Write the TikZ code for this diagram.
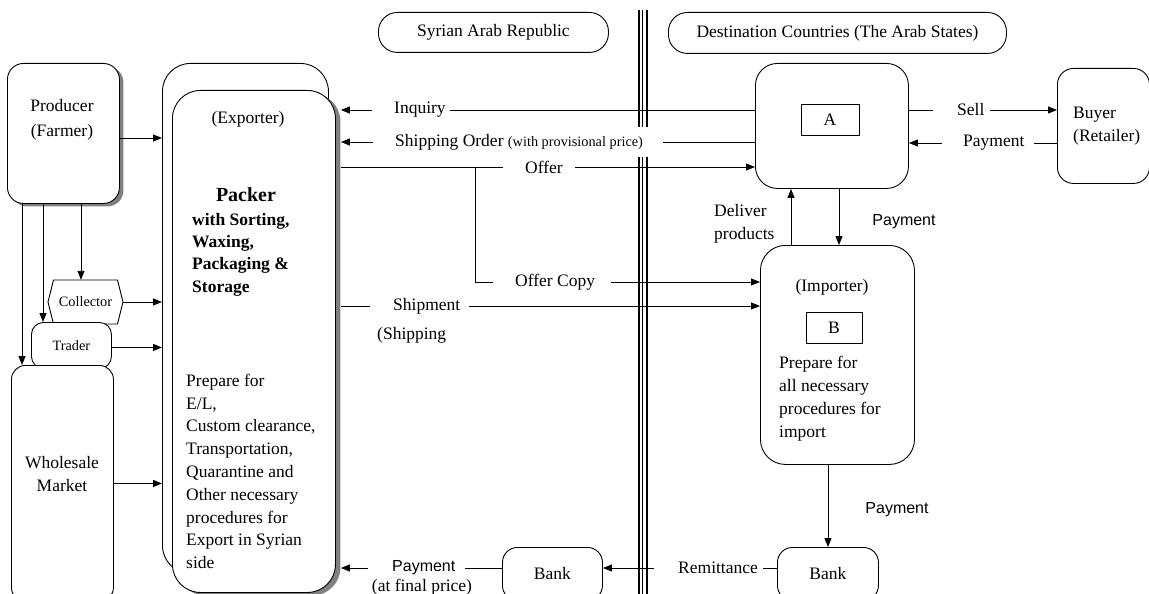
\documentclass[tikz,border=0pt]{standalone}
\usepackage{fontspec}
\setmainfont{Liberation Serif}
\setsansfont{Liberation Sans}
\usetikzlibrary{arrows.meta,calc,shadows}
\newcommand{\fmain}{\fontsize{17.5pt}{22.8pt}\selectfont}
\newcommand{\fsml}{\fontsize{14.3pt}{17pt}\selectfont}
\newcommand{\fsns}{\sffamily\fontsize{16pt}{19pt}\selectfont}
\newcommand{\fbig}{\bfseries\fontsize{20pt}{24pt}\selectfont}
\begin{document}
\begin{tikzpicture}[x=1pt,y=-1pt,
  every node/.style={font=\fmain, inner sep=0pt},
  box/.style={draw, fill=white, line width=0.9pt, anchor=north west},
  arr/.style={line width=0.9pt, -{Triangle[length=9pt,width=7pt]}},
  ln/.style={line width=0.9pt},
  gap/.style={fill=white, anchor=west, inner ysep=2pt},
  shd/.style={drop shadow={fill=black!50, opacity=1, shadow xshift=#1, shadow yshift=-3pt}},
  shd/.default=4pt
]
\useasboundingbox (0,0) rectangle (1149,594);

% border between the two sides
\foreach \xx/\w in {639.3/1.9pt, 642.5/1.6pt, 646.7/1.9pt}
  \draw[line width=\w] (\xx,10) -- (\xx,594);

% headers
\node[box, rounded corners=19pt, minimum width=230pt, minimum height=40pt] (syr) at (378,12) {Syrian Arab Republic};
\node[box, rounded corners=19pt, minimum width=338pt, minimum height=41pt] (dest) at (668,12) {Destination Countries (The Arab States)};

% producer
\node[box, shd, rounded corners=16pt, minimum width=112pt, minimum height=140pt] (prod) at (7,63) {};
\node[align=center, font=\fontsize{17.5pt}{25pt}\selectfont] (prodT) at (62,119.5) {Producer\\(Farmer)};

% exporter
\node[box, rounded corners=28pt, minimum width=166pt, minimum height=510pt] (expB) at (162,63) {};
\node[box, shd=5pt, rounded corners=28pt, minimum width=163pt, minimum height=502pt] (exp) at (172,90) {};
\node (expT) at (248,119) {(Exporter)};
\node[font=\fbig] (pack) at (246,195) {Packer};
\node[align=left, anchor=west, font=\bfseries\fontsize{17.5pt}{22.3pt}\selectfont] (packT) at (192,254.5) {with Sorting,\\Waxing,\\Packaging \&\\Storage};
\node[align=left, anchor=west] (prepT) at (186,471.5) {Prepare for\\E/L,\\Custom clearance,\\Transportation,\\Quarantine and\\Other necessary\\procedures for\\Export in Syrian\\side};

% collector
\coordinate (collC) at (85.5,302);
\draw[ln, fill=white] ($(collC)+(-32,-22)$) -- ($(collC)+(32,-22)$) -- ($(collC)+(37.5,0)$)
  -- ($(collC)+(32,22)$) -- ($(collC)+(-32,22)$) -- ($(collC)+(-37.5,0)$) -- cycle;
\node[minimum width=75pt, minimum height=44pt] (coll) at (collC) {\fsml Collector};

% trader and wholesale market
\node[box, rounded corners=12pt, minimum width=80pt, minimum height=46pt] (trad) at (31,322) {\fsml Trader};
\node[box, rounded corners=14pt, minimum width=102pt, minimum height=236pt] (whole) at (11,365) {};
\node[align=center] (wholeT) at (62,474) {Wholesale\\Market};

% A, buyer, importer
\node[box, rounded corners=22pt, minimum width=153pt, minimum height=125pt] (A) at (755,63) {};
\node[draw, line width=0.9pt, minimum width=58pt, minimum height=31pt] (Abox) at (830,119.5) {A};
\node[box, rounded corners=16pt, minimum width=92pt, minimum height=115pt] (buy) at (1057,68) {};
\node[align=left, anchor=west] (buyT) at (1073,126.5) {Buyer\\(Retailer)};
\node[box, rounded corners=25pt, minimum width=154pt, minimum height=219pt] (imp) at (760,245) {};
\node (impT) at (832,287) {(Importer)};
\node[draw, line width=0.9pt, minimum width=56pt, minimum height=31pt] (Bbox) at (834,327.5) {B};
\node[align=left, anchor=west, font=\fontsize{17.5pt}{23pt}\selectfont] (impP) at (779,398.5) {Prepare for\\all necessary\\procedures for\\import};

% banks
\node[box, rounded corners=15pt, minimum width=100pt, minimum height=53pt] (bankL) at (502,547) {Bank};
\node[box, rounded corners=15pt, minimum width=101pt, minimum height=53pt] (bankR) at (777,547) {Bank};

% helper levels
\coordinate (yInq) at (0,110);
\coordinate (ySO) at (0,142);
\coordinate (yOff) at (0,167);
\coordinate (yOC) at (0,282);
\coordinate (ySh) at (0,306);
\coordinate (yPay) at (0,568);
\coordinate (yPr) at (0,138);
\coordinate (yBP) at (0,143);
\coordinate (expR) at ($(exp.east)+(5,0)$);

% left side arrows
\draw[arr] (prod.east |- yPr) -- (expB.west |- yPr);
\coordinate (cN) at ($(coll.north)+(-4.5,0)$);
\draw[arr] (cN |- prod.south) -- (cN);
\draw[arr] ($(prod.south west)+(36,0)$) -- ($(trad.north west)+(12,0)$);
\draw[arr] ($(prod.south west)+(15,0)$) -- ($(whole.north west)+(11,0)$);
\draw[arr] (coll.east) -- (coll.east -| expB.west);
\coordinate (tY) at ($(trad.east)+(0,2)$);
\draw[arr] (tY) -- (tY -| expB.west);
\draw[arr] (whole.east) -- (whole.east -| expB.west);

% flows between exporter and destination
\draw[arr] (A.west |- yInq) -- (expR |- yInq);
\node[gap] (inq) at (372,110) {\kern22pt Inquiry\kern4pt};
\draw[arr] (A.west |- ySO) -- (expR |- ySO);
\node[gap, minimum height=30pt] (so) at (373,142) {\kern22pt Shipping Order {\fsml (with provisional price)}\kern20pt};
\draw[arr] (expR |- yOff) -- (A.west |- yOff);
\node[gap] (off) at (503,167) {\kern22pt Offer\kern12pt};
\coordinate (br) at (475,167);
\draw[arr] (br) |- (imp.west |- yOC);
\node[gap] (offc) at (493,282) {\kern22pt Offer Copy\kern16pt};
\draw[arr] (expR |- ySh) -- (imp.west |- ySh);
\node[gap] (ship) at (370,306) {\kern23pt Shipment\kern9pt};
\node[anchor=west] (shipg) at (377,335) {(Shipping};

% destination side
\draw[arr] (A.east |- yInq) -- (buy.west |- yInq);
\node[gap] (sell) at (933,110) {\kern24pt Sell\kern6pt};
\draw[arr] (buy.west |- yBP) -- (A.east |- yBP);
\node[gap] (bpay) at (942,143) {\kern21pt Payment\kern10pt};
\draw[arr] ($(imp.north west)+(31,0)$) -- ($(A.south west)+(36,0)$);
\node[align=left, anchor=west] (deliv) at (714,223.5) {Deliver\\products};
\draw[arr] ($(A.south west)+(84,0)$) -- ($(imp.north west)+(79,0)$);
\node (pay1) at (904,222) {\fsns Payment};
\draw[arr] ($(imp.south west)+(68,0)$) -- ($(bankR.north west)+(51,0)$);
\node (pay2) at (897,510) {\fsns Payment};

% payments at the bottom
\draw[arr] (bankR.west |- yPay) -- (bankL.east |- yPay);
\node[gap] (remit) at (654,568) {\kern24pt Remittance\kern5pt};
\draw[arr] (bankL.west |- yPay) -- (expR |- yPay);
\node[gap] (pay3) at (368,568) {\kern24pt{\fsns Payment}\kern10pt};
\node (fin) at (422,587) {(at final price)};
\end{tikzpicture}
\end{document}
